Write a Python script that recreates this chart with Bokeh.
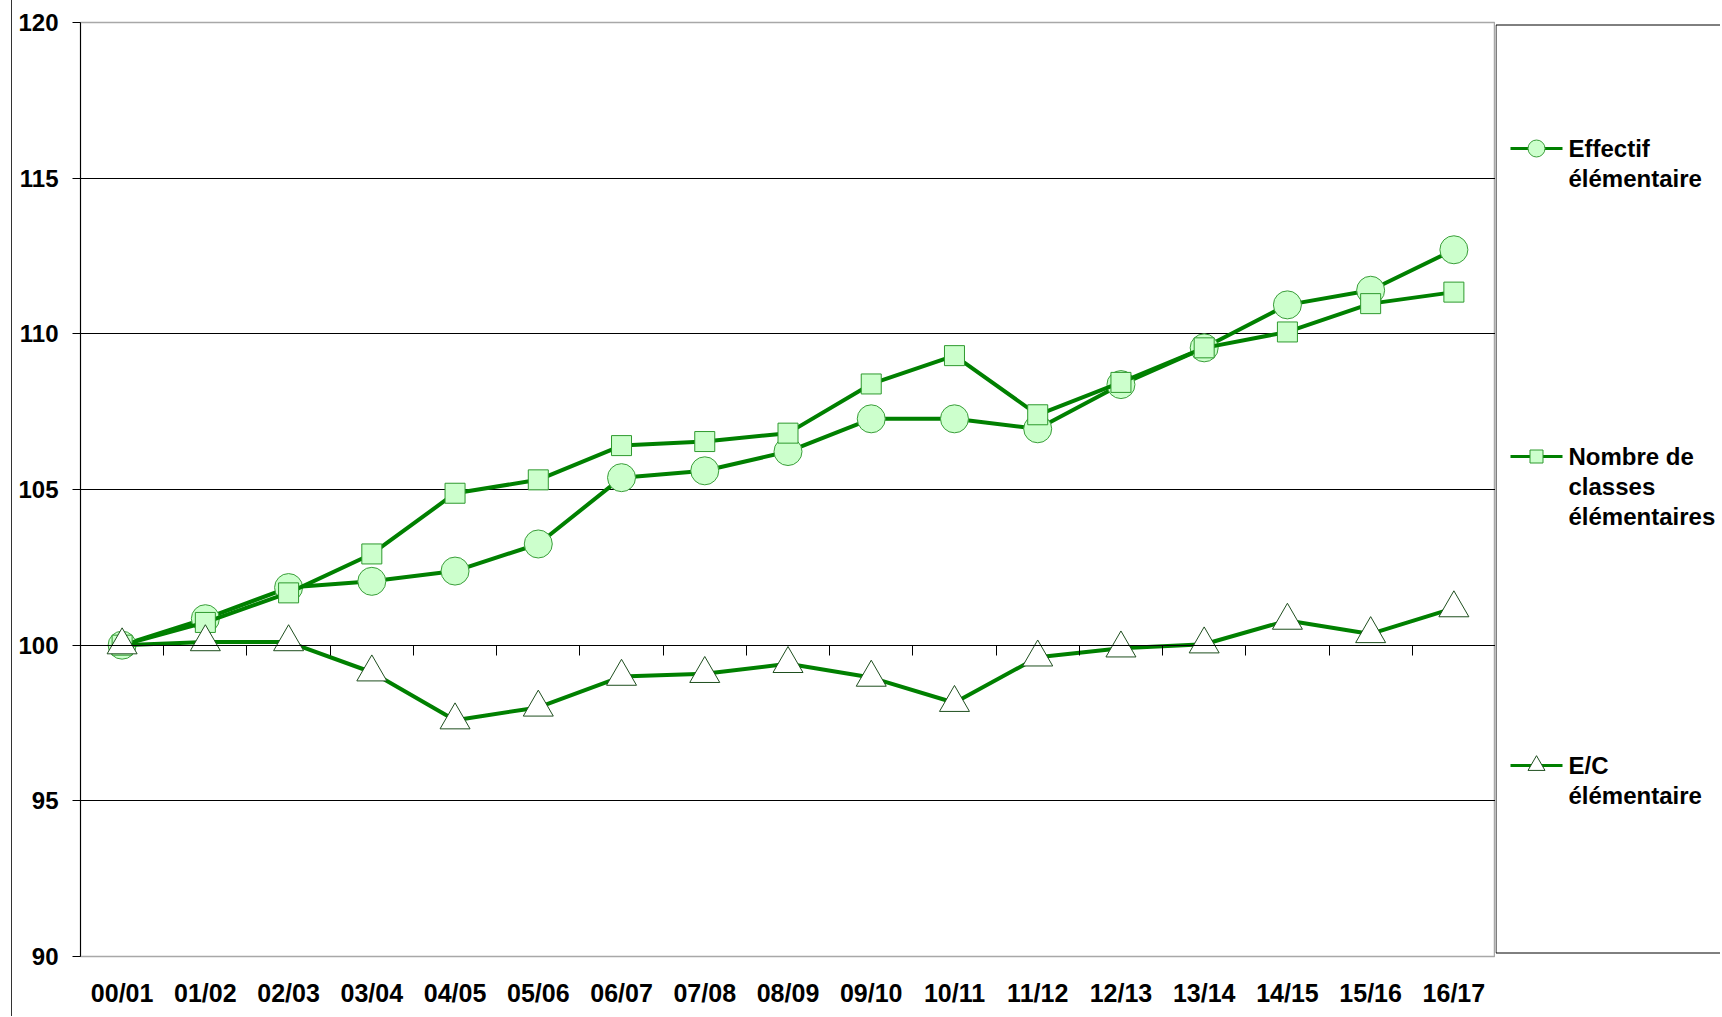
from bokeh.plotting import figure
from bokeh.models import Range1d, FixedTicker, LinearAxis, Grid, Div
from bokeh.layouts import row
from bokeh.core.properties import value
from bokeh.embed import file_html
from bokeh.resources import INLINE

# ---------------- data ----------------
categories = ["00/01", "01/02", "02/03", "03/04", "04/05", "05/06", "06/07", "07/08", "08/09",
              "09/10", "10/11", "11/12", "12/13", "13/14", "14/15", "15/16", "16/17"]
effectif = [100.0, 100.85, 101.85, 102.05, 102.38, 103.25, 105.38, 105.6, 106.22,
            107.27, 107.27, 106.95, 108.37, 109.55, 110.93, 111.4, 112.7]
classes = [100.0, 100.73, 101.68, 102.93, 104.88, 105.31, 106.41, 106.54, 106.81,
           108.39, 109.3, 107.4, 108.44, 109.55, 110.06, 110.97, 111.34]
ec = [100.0, 100.1, 100.1, 99.13, 97.59, 98.0, 98.99, 99.08, 99.4,
      98.96, 98.15, 99.61, 99.9, 100.03, 100.79, 100.36, 101.19]
series_names = ["Effectif\nélémentaire", "Nombre de\nclasses\nélémentaires", "E/C\nélémentaire"]
y_ticks = [90, 95, 100, 105, 110, 115, 120]

FONT_NAME = "Liberation Sans"
FONT = value(FONT_NAME)
GREEN = "#008000"
styles = [
    dict(marker="circle", size=28, fill="#ccffcc", line="#3a9e3a", lsize=17),
    dict(marker="square", size=20, fill="#ccffcc", line="#2e9a2e", lsize=13),
    dict(marker="triangle", size=30, fill="#ffffff", line="#1f4f1f", lsize=17),
]
series = [effectif, classes, ec]

n = len(categories)
xs = list(range(1, n + 1))

# page layout (pixels)
H = 1010
LEFT_W = 12
FRAME_L, FRAME_R, FRAME_T, FRAME_B = 80, 1495, 22, 956
W_MAIN = FRAME_R - LEFT_W
W_LEG = 1720 - FRAME_R

p = figure(width=W_MAIN, height=H, x_range=Range1d(0.5, n + 0.5), y_range=Range1d(y_ticks[0], y_ticks[-1]),
           output_backend="svg", toolbar_location=None, x_axis_location=None, y_axis_location=None,
           min_border_left=FRAME_L - LEFT_W, min_border_top=FRAME_T, min_border_bottom=H - FRAME_B,
           min_border_right=0, background_fill_color="white", border_fill_color="white")
p.xgrid.visible = False
p.ygrid.visible = False
p.outline_line_color = "#a8a8a8"
p.outline_line_width = 1.5

# y axis
yax = LinearAxis(ticker=FixedTicker(ticks=y_ticks))
yax.axis_line_color = "black"
yax.major_tick_line_color = "black"
yax.major_tick_out = 8
yax.major_tick_in = 0
yax.minor_tick_line_color = None
yax.major_label_text_font = FONT_NAME
yax.major_label_text_font_style = "bold"
yax.major_label_text_font_size = "24px"
yax.major_label_text_color = "black"
yax.major_label_standoff = 14
p.add_layout(yax, "left")

# horizontal gridlines (inner ones)
grid = Grid(dimension=1, ticker=FixedTicker(ticks=y_ticks[1:-1]), grid_line_color="black", grid_line_width=1)
p.add_layout(grid, "center")

# x axis crossing at 100, ticks between categories
cross = LinearAxis(ticker=FixedTicker(ticks=[i + 0.5 for i in range(n + 1)]), fixed_location=100)
cross.axis_line_color = "black"
cross.major_tick_line_color = "black"
cross.major_tick_out = 10
cross.major_tick_in = 0
cross.minor_tick_line_color = None
cross.major_label_overrides = {i + 0.5: "" for i in range(n + 1)}
cross.major_label_text_font_size = "0px"
p.add_layout(cross, "below")

# category labels at the bottom
xlab = LinearAxis(ticker=FixedTicker(ticks=xs))
xlab.major_label_overrides = {x: c for x, c in zip(xs, categories)}
xlab.axis_line_color = None
xlab.major_tick_line_color = None
xlab.major_tick_out = 0
xlab.major_tick_in = 0
xlab.minor_tick_line_color = None
xlab.major_label_text_font = FONT_NAME
xlab.major_label_text_font_style = "bold"
xlab.major_label_text_font_size = "25px"
xlab.major_label_text_color = "black"
xlab.major_label_standoff = 22
p.add_layout(xlab, "below")

for ys, st in zip(series, styles):
    p.line(xs, ys, line_color=GREEN, line_width=4)
    p.scatter(xs, ys, marker=st["marker"], size=st["size"], fill_color=st["fill"],
              line_color=st["line"], line_width=1)

# ---------------- legend panel (coordinates in page pixels) ----------------
L = figure(width=W_LEG, height=H, x_range=Range1d(FRAME_R, FRAME_R + W_LEG), y_range=Range1d(FRAME_B, FRAME_T),
           output_backend="svg", toolbar_location=None, x_axis_location=None, y_axis_location=None,
           min_border_left=0, min_border_right=0, min_border_top=FRAME_T, min_border_bottom=H - FRAME_B,
           background_fill_color="white", border_fill_color="white")
L.outline_line_color = None
L.xgrid.visible = False
L.ygrid.visible = False

box_top, box_bottom, box_left = 24.5, 952.5, FRAME_R + 0.5
L.line([FRAME_R + W_LEG + 50, box_left, box_left, FRAME_R + W_LEG + 50],
       [box_top, box_top, box_bottom, box_bottom], line_color="black", line_width=1)

row_y = [148, 456, 765]
sx0, sx1, mx, tx = FRAME_R + 15, FRAME_R + 67, FRAME_R + 41, FRAME_R + 73
line_gap = 30
for ry, name, st in zip(row_y, series_names, styles):
    L.line([sx0, sx1], [ry, ry], line_color=GREEN, line_width=3)
    L.scatter([mx], [ry], marker=st["marker"], size=st["lsize"], fill_color=st["fill"],
              line_color=st["line"], line_width=1)
    lines = name.split("\n")
    L.text(x=[tx] * len(lines), y=[ry + k * line_gap for k in range(len(lines))], text=lines,
           text_font=FONT, text_font_style="bold", text_font_size="24px", text_color="black",
           text_baseline="alphabetic", text_align="left")

# chart-area left border (runs the full height of the window)
BORDER_H = 1016
left_border = Div(text="", width=LEFT_W, height=BORDER_H, margin=0,
                  styles={"border-right": "1px solid #333333", "box-sizing": "border-box",
                          "height": f"{BORDER_H}px"})

layout = row(left_border, p, L, spacing=0)
open("out.html", "w").write(file_html(layout, INLINE))
